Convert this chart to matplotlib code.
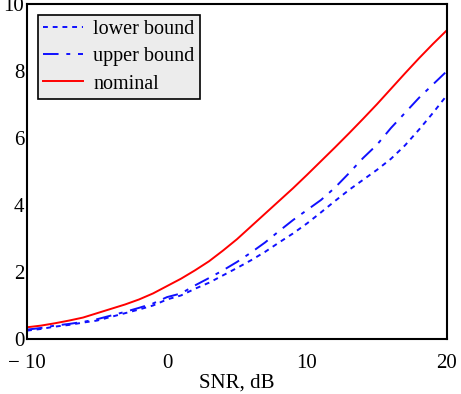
import matplotlib.pyplot as plt

plt.rcParams['font.family'] = ['Liberation Serif', 'DejaVu Serif']

# SNR em dB
snr = list(range(-10, 21))

lower_bound = [0.25, 0.30, 0.37, 0.42, 0.49, 0.55, 0.66, 0.77, 0.88, 1.00,
               1.18, 1.30, 1.50, 1.68, 1.90, 2.12, 2.35, 2.60, 2.88, 3.15,
               3.45, 3.78, 4.12, 4.45, 4.75, 5.05, 5.38, 5.78, 6.25, 6.75,
               7.28]
upper_bound = [0.28, 0.33, 0.40, 0.45, 0.51, 0.59, 0.70, 0.81, 0.93, 1.06,
               1.25, 1.36, 1.60, 1.82, 2.05, 2.30, 2.58, 2.88, 3.22, 3.55,
               3.85, 4.15, 4.52, 4.95, 5.40, 5.80, 6.30, 6.75, 7.20, 7.60,
               8.00]
nominal = [0.35, 0.40, 0.47, 0.55, 0.64, 0.77, 0.90, 1.03, 1.18, 1.36,
           1.58, 1.80, 2.05, 2.32, 2.64, 2.98, 3.36, 3.74, 4.12, 4.50,
           4.90, 5.31, 5.72, 6.14, 6.57, 7.01, 7.47, 7.93, 8.38, 8.81,
           9.22]

xticks = [-10, 0, 10, 20]
xtick_labels = ['\u2212 10', '0', '10', '20']
yticks = [0, 2, 4, 6, 8, 10]

fig = plt.figure(figsize=(4.61, 3.94), dpi=100)
ax = fig.add_axes([0.0586, 0.1396, 0.911, 0.8502])

ax.plot(snr, lower_bound, color='#1010ff', lw=1.4, dashes=(2.5, 2.5),
        label='lower bound')
ax.plot(snr, upper_bound, color='#1010ff', lw=1.4, dashes=(8, 4, 2, 4),
        label='upper bound')
ax.plot(snr, nominal, color='#ff0000', lw=1.4, label='nominal')

ax.set_xlim(-10, 20)
ax.set_ylim(0, 10)

# rótulos nos ticks principais, marcas só nos internos
ax.set_xticks(xticks)
ax.set_xticklabels(xtick_labels)
ax.set_yticks(yticks)
ax.set_xticks([0, 10], minor=True)
ax.set_yticks([2, 4, 6, 8], minor=True)
ax.tick_params(which='major', length=0, labelsize=15)
ax.tick_params(axis='x', which='major', pad=11)
ax.tick_params(axis='y', which='major', pad=2)
ax.tick_params(which='minor', direction='in', length=10, width=1.5,
               top=True, right=True)

for s in ax.spines.values():
    s.set_linewidth(1.5)

ax.set_xlabel('SNR, dB', fontsize=15, labelpad=0)

leg = ax.legend(loc='upper left', bbox_to_anchor=(0.026, 0.967),
                fontsize=14.5, handlelength=2.0, labelspacing=0.4,
                borderpad=0.25, handletextpad=0.5, fancybox=False,
                framealpha=1, facecolor='#ececec', edgecolor='black',
                borderaxespad=0)
leg.get_frame().set_linewidth(1.2)

plt.savefig('out.png', dpi=100)
